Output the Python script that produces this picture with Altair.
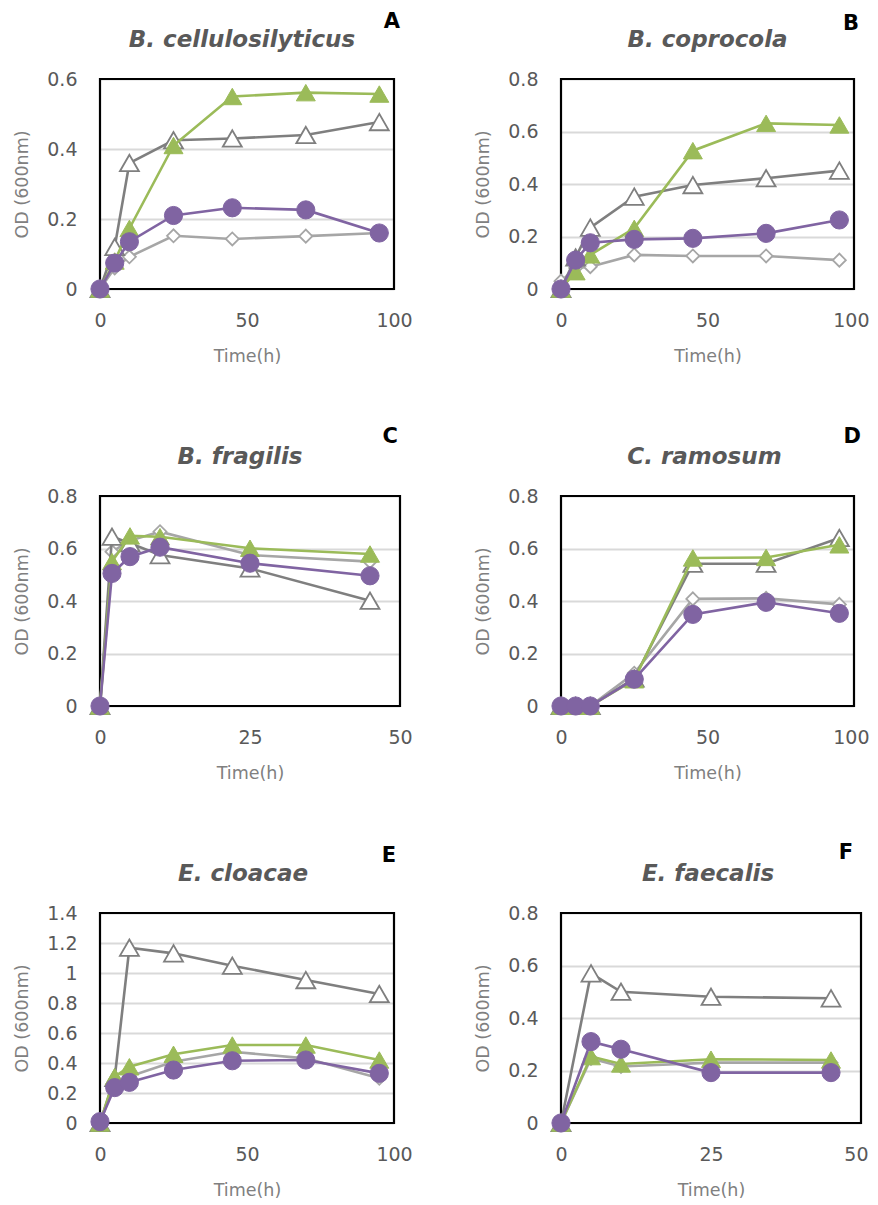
import altair as alt
import pandas as pd

# ---------------- data ----------------
# Panel A: B. cellulosilyticus
A_TIME = [0, 5, 10, 25, 45, 70, 95]
A_LIGHT_DIAMOND = [0, 0.06, 0.092, 0.152, 0.143, 0.151, 0.16]
A_DARK_TRIANGLE = [0, 0.12, 0.36, 0.425, 0.43, 0.44, 0.477]
A_GREEN_TRIANGLE = [0, 0.08, 0.173, 0.41, 0.55, 0.561, 0.557]
A_PURPLE_CIRCLE = [0, 0.074, 0.135, 0.21, 0.232, 0.226, 0.16]

# Panel B: B. coprocola
B_TIME = [0, 5, 10, 25, 45, 70, 95]
B_LIGHT_DIAMOND = [0.03, 0.08, 0.085, 0.13, 0.126, 0.126, 0.11]
B_DARK_TRIANGLE = [0, 0.12, 0.234, 0.352, 0.396, 0.422, 0.451]
B_GREEN_TRIANGLE = [0, 0.066, 0.13, 0.231, 0.527, 0.631, 0.625]
B_PURPLE_CIRCLE = [0, 0.11, 0.176, 0.189, 0.193, 0.212, 0.263]

# Panel C: B. fragilis
C_TIME = [0, 2, 5, 10, 25, 45]
C_LIGHT_DIAMOND = [0, 0.588, 0.63, 0.664, 0.575, 0.55]
C_DARK_TRIANGLE = [0, 0.645, 0.62, 0.575, 0.524, 0.401]
C_GREEN_TRIANGLE = [0, 0.55, 0.648, 0.645, 0.601, 0.579]
C_PURPLE_CIRCLE = [0, 0.505, 0.569, 0.605, 0.544, 0.496]

# Panel D: C. ramosum
D_TIME = [0, 5, 10, 25, 45, 70, 95]
D_LIGHT_DIAMOND = [0, 0, 0, 0.125, 0.408, 0.41, 0.387]
D_DARK_TRIANGLE = [0, 0, 0, 0.105, 0.542, 0.542, 0.64]
D_GREEN_TRIANGLE = [0, 0, 0, 0.1, 0.564, 0.566, 0.614]
D_PURPLE_CIRCLE = [0, 0, 0, 0.102, 0.349, 0.395, 0.353]

# Panel E: E. cloacae
E_TIME = [0, 5, 10, 25, 45, 70, 95]
E_LIGHT_DIAMOND = [0, 0.27, 0.31, 0.409, 0.475, 0.431, 0.298]
E_DARK_TRIANGLE = [0, 0.3, 1.169, 1.131, 1.049, 0.953, 0.86]
E_GREEN_TRIANGLE = [0, 0.309, 0.375, 0.458, 0.52, 0.52, 0.42]
E_PURPLE_CIRCLE = [0.009, 0.236, 0.271, 0.353, 0.415, 0.42, 0.331]

# Panel F: E. faecalis
F_TIME = [0, 5, 10, 25, 45]
F_LIGHT_DIAMOND = [0, 0.246, 0.215, 0.23, 0.23]
F_DARK_TRIANGLE = [0, 0.57, 0.5, 0.481, 0.475]
F_GREEN_TRIANGLE = [0, 0.253, 0.225, 0.243, 0.24]
F_PURPLE_CIRCLE = [0, 0.31, 0.281, 0.192, 0.192]

TITLES = ["B. cellulosilyticus", "B. coprocola", "B. fragilis",
          "C. ramosum", "E. cloacae", "E. faecalis"]
LETTERS = ["A", "B", "C", "D", "E", "F"]

# ---------------- styles ----------------
FONT = "DejaVu Sans"
SERIES_STYLE = [
    # (line colour, shape, fill, stroke, size, stroke width)
    ("#a6a6a6", "diamond", "white", "#a6a6a6", 170, 1.8),
    ("#7f7f7f", "triangle-up", "white", "#7f7f7f", 360, 1.8),
    ("#9bbb59", "triangle-up", "#9bbb59", "#9bbb59", 360, 1),
    ("#8064a2", "circle", "#8064a2", "#8064a2", 330, 1),
]
PLOT_H = 210


def panel(title, letter, times, series, ymax, ystep, xmax, xstep, width,
          title_dx, letter_dx, letter_dy, last_label_shift=None):
    nticks = int(round(ymax / ystep))
    yvals = [round(i * ystep, 1) for i in range(nticks + 1)]
    xvals = list(range(0, xmax + 1, xstep))
    x_axis_kw = dict(values=xvals, title="Time(h)", format="d")
    if last_label_shift is not None:
        # keep the right-most tick label inside the page edge
        x_axis_kw["labelAlign"] = alt.ExprRef(
            expr=f"datum.value == {xmax} ? 'right' : 'center'")
        x_axis_kw["labelOffset"] = alt.ExprRef(
            expr=f"datum.value == {xmax} ? {last_label_shift} : 0")
    x_enc = alt.X("t:Q", scale=alt.Scale(domain=[0, xmax], nice=False),
                  axis=alt.Axis(**x_axis_kw))
    y_enc = alt.Y("od:Q", scale=alt.Scale(domain=[0, ymax], nice=False),
                  axis=alt.Axis(values=yvals, title="OD (600nm)", format="~g"))
    # plot-area frame, drawn above the grid but below the data
    frame = alt.Chart(pd.DataFrame({"s": [letter]})).mark_rect(
        fill=None, stroke="black", strokeWidth=2.2
    ).encode(x=alt.value(0), x2=alt.value(width), y=alt.value(0), y2=alt.value(PLOT_H))
    layers = [frame]
    for vals, (lc, shape, fill, stroke, size, sw) in zip(series, SERIES_STYLE):
        df = pd.DataFrame({"t": times, "od": vals})
        layers.append(alt.Chart(df).mark_line(color=lc, strokeWidth=2.6)
                      .encode(x=x_enc, y=y_enc))
        layers.append(alt.Chart(df).mark_point(shape=shape, filled=True, fill=fill,
                                               stroke=stroke, strokeWidth=sw,
                                               size=size, opacity=1)
                      .encode(x=x_enc, y=y_enc))
    t = alt.Chart(pd.DataFrame({"s": [title]})).mark_text(
        font=FONT, fontSize=23, fontWeight="bold", fontStyle="italic",
        color="#595959", align="center", baseline="alphabetic"
    ).encode(text="s:N", x=alt.value(width / 2 + title_dx), y=alt.value(-32))
    l = alt.Chart(pd.DataFrame({"s": [letter]})).mark_text(
        font=FONT, fontSize=21, fontWeight="bold", color="black",
        align="right", baseline="alphabetic"
    ).encode(text="s:N", x=alt.value(width + letter_dx), y=alt.value(letter_dy))
    layers += [t, l]
    return alt.layer(*layers).properties(width=width, height=PLOT_H)


pA = panel(TITLES[0], LETTERS[0], A_TIME,
           [A_LIGHT_DIAMOND, A_DARK_TRIANGLE, A_GREEN_TRIANGLE, A_PURPLE_CIRCLE],
           0.6, 0.2, 100, 50, 294, -5, 6, -51)
pB = panel(TITLES[1], LETTERS[1], B_TIME,
           [B_LIGHT_DIAMOND, B_DARK_TRIANGLE, B_GREEN_TRIANGLE, B_PURPLE_CIRCLE],
           0.8, 0.2, 100, 50, 293, 0, 5, -49, last_label_shift=15)
pC = panel(TITLES[2], LETTERS[2], C_TIME,
           [C_LIGHT_DIAMOND, C_DARK_TRIANGLE, C_GREEN_TRIANGLE, C_PURPLE_CIRCLE],
           0.8, 0.2, 50, 25, 300, -10, -2, -53)
pD = panel(TITLES[3], LETTERS[3], D_TIME,
           [D_LIGHT_DIAMOND, D_DARK_TRIANGLE, D_GREEN_TRIANGLE, D_PURPLE_CIRCLE],
           0.8, 0.2, 100, 50, 293, -3, 7, -53, last_label_shift=15)
pE = panel(TITLES[4], LETTERS[4], E_TIME,
           [E_LIGHT_DIAMOND, E_DARK_TRIANGLE, E_GREEN_TRIANGLE, E_PURPLE_CIRCLE],
           1.4, 0.2, 100, 50, 294, -4, 2, -51)
pF = panel(TITLES[5], LETTERS[5], F_TIME,
           [F_LIGHT_DIAMOND, F_DARK_TRIANGLE, F_GREEN_TRIANGLE, F_PURPLE_CIRCLE],
           0.8, 0.2, 50, 25, 300, -3, -8, -54, last_label_shift=7)

chart = alt.concat(
    pA, pB, pC, pD, pE, pF, columns=2,
    spacing=alt.RowColnumber(row=207, column=161), bounds="flush"
).properties(
    autosize=alt.AutoSizeParams(type="none"),
    padding={"left": 92, "top": 71, "right": 770, "bottom": 1123},
).configure_view(
    stroke=None
).configure_axis(
    labelFont=FONT, labelFontSize=19, labelColor="#595959", labelFlush=False,
    labelOverlap=False,
    titleFont=FONT, titleFontSize=17.5, titleColor="#808080", titleFontWeight="normal",
    domain=False, ticks=False, gridColor="#d9d9d9", gridWidth=2,
).configure_axisX(
    grid=False, labelPadding=22, titlePadding=17,
).configure_axisY(
    grid=True, labelPadding=23, titlePadding=15,
)

chart.save("out.html", embed_options={"renderer": "svg", "actions": False})
